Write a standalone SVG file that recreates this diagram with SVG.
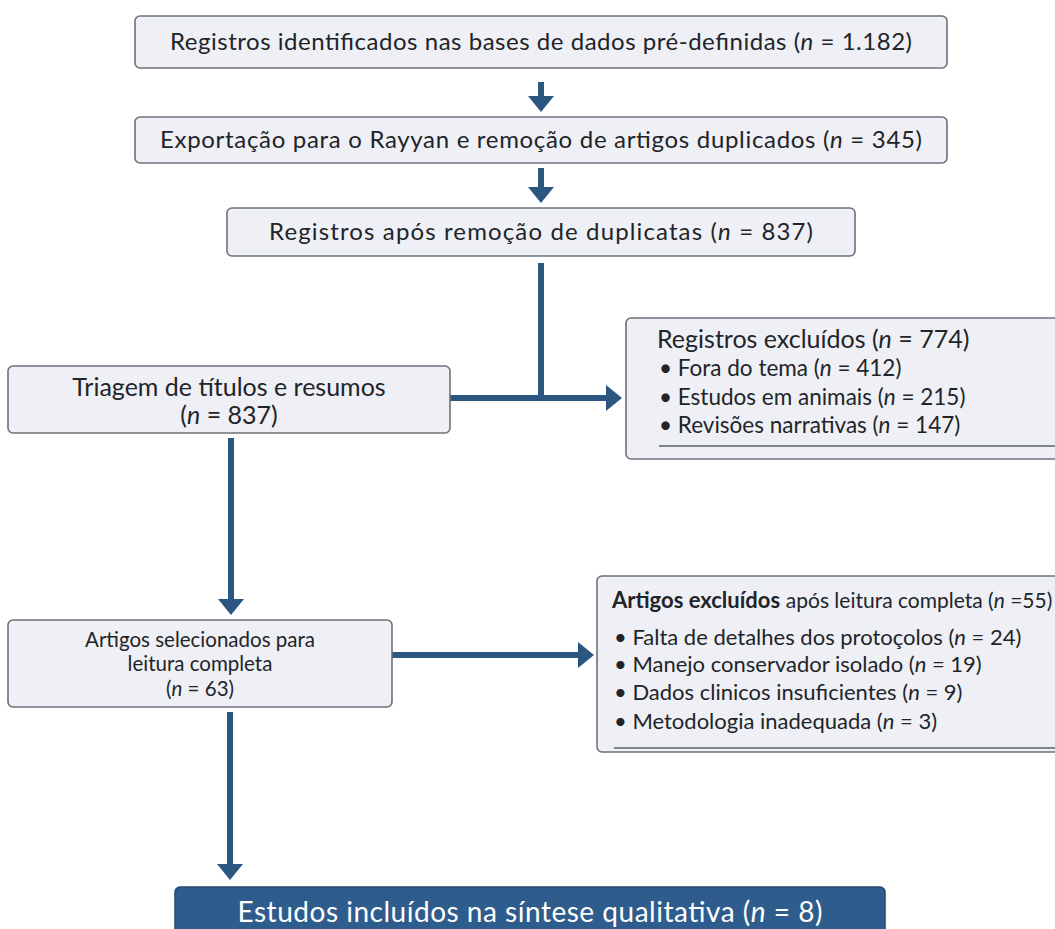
<svg xmlns="http://www.w3.org/2000/svg" width="1055" height="929" viewBox="0 0 1055 929">
<style>
.box{fill:#eef0f6;stroke:#6d717a;stroke-width:1.6}
.dark{fill:#2e5c8c;stroke:#24496f;stroke-width:1.5}
.t{font-family:Lato,"Open Sans","Liberation Sans",sans-serif;font-size:24px;fill:#222428}
.c{text-anchor:middle}
.w{fill:#ffffff;font-size:28px}
.m{font-size:25px}
.l{font-size:22.5px}
.k{font-size:22px}
.q{font-size:20.5px}
.conn{stroke:#2b5680;stroke-width:6;fill:none}
.sep{stroke:#5a5f68;stroke-width:1.5}
.b{font-weight:bold}
.s{font-size:21px}
.i{font-style:italic}
</style>
<defs>
<marker id="ah" markerUnits="userSpaceOnUse" markerWidth="17" markerHeight="28" refX="1" refY="13" orient="auto">
<path d="M0,0 L16,13 L0,26 z" fill="#2b5680"/>
</marker>
</defs>
<rect width="1055" height="929" fill="#ffffff"/>
<g id="connectors">
<line class="conn" x1="541" y1="82" x2="541" y2="97" marker-end="url(#ah)"/>
<line class="conn" x1="541" y1="168" x2="541" y2="188" marker-end="url(#ah)"/>
<path class="conn" d="M541,263 V398"/>
<line class="conn" x1="450" y1="398" x2="607" y2="398" marker-end="url(#ah)"/>
<line class="conn" x1="231" y1="438" x2="231" y2="600" marker-end="url(#ah)"/>
<line class="conn" x1="392" y1="655" x2="579" y2="655" marker-end="url(#ah)"/>
<line class="conn" x1="230" y1="712" x2="230" y2="865" marker-end="url(#ah)"/>
</g>
<g id="n1">
<rect class="box" x="135" y="16" width="812" height="52" rx="5"/>
<text class="t c" x="541" y="50" textLength="742" lengthAdjust="spacing">Registros identificados nas bases de dados pré-definidas (<tspan class="i">n</tspan> = 1.182)</text>
</g>
<g id="n2">
<rect class="box" x="135" y="117" width="812" height="46" rx="5"/>
<text class="t c" x="541" y="148" textLength="762" lengthAdjust="spacing">Exportação para o Rayyan e remoção de artigos duplicados (<tspan class="i">n</tspan> = 345)</text>
</g>
<g id="n3">
<rect class="box" x="227" y="208" width="628" height="48" rx="5"/>
<text class="t c" x="541" y="240" textLength="544" lengthAdjust="spacing">Registros após remoção de duplicatas (<tspan class="i">n</tspan> = 837)</text>
</g>
<g id="n4">
<rect class="box" x="8" y="366" width="442" height="67" rx="5"/>
<text class="t c m" x="229" y="396">Triagem de títulos e resumos</text>
<text class="t c m" x="229" y="424">(<tspan class="i">n</tspan> = 837)</text>
</g>
<g id="n5">
<rect class="box" x="626" y="318" width="450" height="141" rx="5"/>
<text class="t m" x="657" y="348">Registros excluídos (<tspan class="i">n</tspan> = 774)</text>
<text class="t l" x="659" y="376">• Fora do tema (<tspan class="i">n</tspan> = 412)</text>
<text class="t l" x="659" y="405">• Estudos em animais (<tspan class="i">n</tspan> = 215)</text>
<text class="t l" x="659" y="433">• Revisões narrativas (<tspan class="i">n</tspan> = 147)</text>
<line class="sep" x1="659" y1="446" x2="1055" y2="446"/>
</g>
<g id="n6">
<rect class="box" x="8" y="620" width="384" height="87" rx="5"/>
<text class="t c q" x="200" y="647">Artigos selecionados para</text>
<text class="t c q" x="200" y="671">leitura completa</text>
<text class="t c q" x="200" y="696">(<tspan class="i">n</tspan> = 63)</text>
</g>
<g id="n7">
<rect class="box" x="597" y="576" width="480" height="176" rx="5"/>
<text class="t k" x="612" y="608"><tspan class="b">Artigos excluídos</tspan> <tspan class="s">após leitura completa (<tspan class="i">n</tspan> =55)</tspan></text>
<text class="t k" x="614" y="645">• Falta de detalhes dos protoçolos (<tspan class="i">n</tspan> = 24)</text>
<text class="t k" x="614" y="672">• Manejo conservador isolado (<tspan class="i">n</tspan> = 19)</text>
<text class="t k" x="614" y="700">• Dados clinicos insuficientes (<tspan class="i">n</tspan> = 9)</text>
<text class="t k" x="614" y="729">• Metodologia inadequada (<tspan class="i">n</tspan> = 3)</text>
<line class="sep" x1="614" y1="748" x2="1055" y2="748"/>
</g>
<g id="n8">
<rect class="dark" x="175" y="887" width="710" height="52" rx="5"/>
<text class="t c w" x="530" y="922" textLength="585" lengthAdjust="spacing">Estudos incluídos na síntese qualitativa (<tspan class="i">n</tspan> = 8)</text>
</g>
</svg>
